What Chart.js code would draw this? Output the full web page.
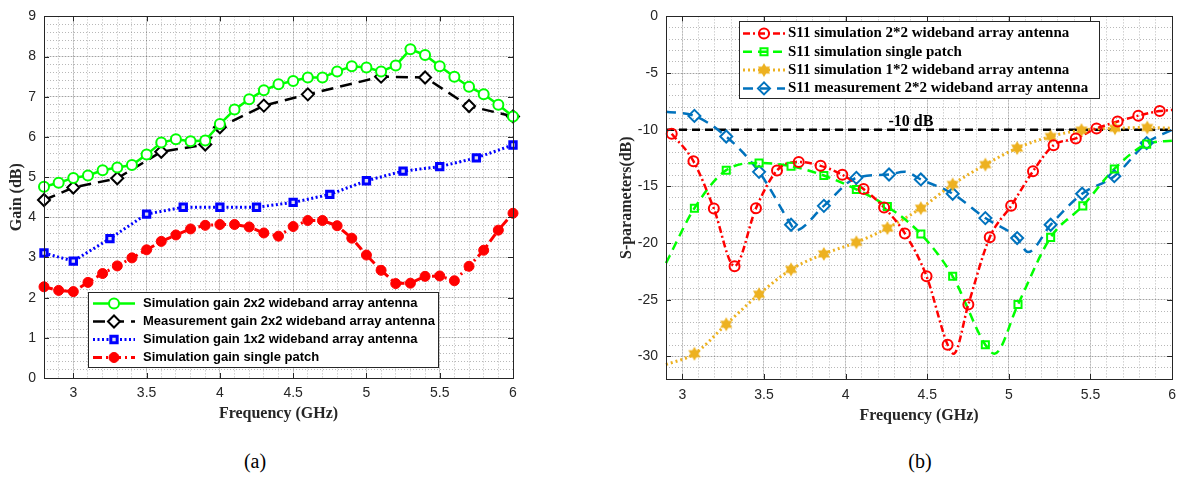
<!DOCTYPE html>
<html>
<head>
<meta charset="utf-8">
<script src="https://cdn.jsdelivr.net/npm/chart.js@4.4.0/dist/chart.umd.min.js"></script>
<style>
  html, body { margin: 0; padding: 0; background: #fff; }
  body { width: 1178px; height: 477px; position: relative; overflow: hidden; }
  canvas { position: absolute; top: 0; }
  #gain { left: 0; }
  #sparam { left: 580px; }
  .cap { position: absolute; top: 449px; width: 60px; margin-left: -30px; text-align: center;
         font: 20px "Liberation Serif", serif; line-height: 24px; color: #000; }
</style>
</head>
<body>
<canvas id="gain" width="560" height="427"></canvas>
<canvas id="sparam" width="604" height="429"></canvas>
<div class="cap" style="left:255px">(a)</div>
<div class="cap" style="left:920px">(b)</div>
<script>
// ---------- (a) gain ----------
const gainFreq = [2.8, 2.9, 3.0, 3.1, 3.2, 3.3, 3.4, 3.5, 3.6, 3.7, 3.8, 3.9, 4.0, 4.1, 4.2, 4.3, 4.4,
                  4.5, 4.6, 4.7, 4.8, 4.9, 5.0, 5.1, 5.2, 5.3, 5.4, 5.5, 5.6, 5.7, 5.8, 5.9, 6.0];
const simGain2x2 = [4.76, 4.86, 4.98, 5.04, 5.17, 5.24, 5.30, 5.56, 5.86, 5.94, 5.89, 5.91, 6.32, 6.68, 6.94, 7.16, 7.31,
                    7.39, 7.48, 7.48, 7.63, 7.76, 7.73, 7.63, 7.78, 8.18, 8.04, 7.76, 7.50, 7.25, 7.06, 6.80, 6.51];
const measFreq2x2 = [2.8, 3.0, 3.3, 3.6, 3.9, 4.0, 4.3, 4.6, 5.1, 5.4, 5.7, 6.0];
const measGain2x2 = [4.43, 4.74, 4.97, 5.63, 5.81, 6.24, 6.78, 7.06, 7.50, 7.48, 6.77, 6.51];
const simFreq1x2 = [2.8, 3.0, 3.25, 3.5, 3.75, 4.0, 4.25, 4.5, 4.75, 5.0, 5.25, 5.5, 5.75, 6.0];
const simGain1x2 = [3.11, 2.91, 3.47, 4.08, 4.25, 4.25, 4.25, 4.37, 4.57, 4.91, 5.15, 5.26, 5.48, 5.80];
const simGainPatch = [2.27, 2.18, 2.15, 2.38, 2.60, 2.79, 2.99, 3.19, 3.40, 3.56, 3.71, 3.80, 3.82, 3.82, 3.76, 3.61, 3.53,
                      3.77, 3.92, 3.92, 3.79, 3.48, 3.06, 2.68, 2.35, 2.36, 2.53, 2.54, 2.42, 2.78, 3.18, 3.68, 4.10];
const gainXTicks = [3, 3.5, 4, 4.5, 5, 5.5, 6];
const gainYTicks = [0, 1, 2, 3, 4, 5, 6, 7, 8, 9];

// ---------- (b) S11 ----------
// marked points, then curve readings with no marker (ends and minima)
const s11Sim22Freq = [2.935, 3.068, 3.193, 3.32, 3.451, 3.58, 3.713, 3.847, 3.98, 4.11, 4.236, 4.363,
                      4.496, 4.625, 4.752, 4.883, 5.014, 5.148, 5.274, 5.41, 5.537, 5.666, 5.793, 5.924];
const s11Sim22 = [-10.36, -12.78, -16.96, -22.04, -16.93, -13.6, -12.84, -13.19, -13.98, -15.24, -16.87, -19.15,
                  -22.94, -28.98, -25.42, -19.5, -16.72, -13.66, -11.38, -10.77, -9.89, -9.28, -8.76, -8.35];
const s11Sim22ExtraFreq = [4.662, 6.0];
const s11Sim22Extra = [-29.77, -8.26];

const s11PatchFreq = [3.074, 3.269, 3.47, 3.666, 3.867, 4.066, 4.256, 4.461, 4.656, 4.856, 5.056, 5.256, 5.453, 5.646, 5.844];
const s11Patch = [-16.93, -13.57, -12.93, -13.22, -14.04, -15.27, -16.78, -19.2, -22.94, -28.98, -25.42, -19.5, -16.72, -13.46, -11.27];
const s11PatchExtraFreq = [2.9, 4.912, 6.0];
const s11PatchExtra = [-21.77, -29.77, -10.97];

const s11Sim12Freq = [3.074, 3.269, 3.47, 3.666, 3.867, 4.066, 4.256, 4.461, 4.656, 4.856, 5.051, 5.256, 5.445, 5.65, 5.848];
const s11Sim12 = [-29.77, -27.17, -24.52, -22.33, -20.96, -19.94, -18.68, -16.93, -14.83, -13.08, -11.62, -10.6, -10.04, -9.87, -9.81];
const s11Sim12ExtraFreq = [2.9, 6.0];
const s11Sim12Extra = [-30.73, -9.87];

const s11Meas22Freq = [3.074, 3.269, 3.47, 3.666, 3.867, 4.066, 4.266, 4.461, 4.656, 4.856, 5.051, 5.256, 5.449, 5.646, 5.844];
const s11Meas22 = [-8.78, -10.6, -13.72, -18.39, -16.72, -14.25, -13.95, -14.39, -15.65, -17.8, -19.56, -18.39, -15.65, -14.1, -11.18];
const s11Meas22ExtraFreq = [2.9, 3.69, 4.36, 5.117, 6.0];
const s11Meas22Extra = [-8.41, -18.9, -13.7, -20.8, -10.0];

const refFreq = [2.9, 6.0];
const refLevel = [-10, -10];
const sXTicks = [3, 3.5, 4, 4.5, 5, 5.5, 6];
const sYTicks = [-30, -25, -20, -15, -10, -5, 0];

const axisColor = '#262626';
const majorGrid = 'rgba(0,0,0,0.13)';
const minorGrid = 'rgba(0,0,0,0.28)';

const pts = (xs, ys) => xs.map((x, i) => ({x: x, y: ys[i]}));
const curve = (xs, ys, ex, ey) => pts(xs, ys).concat(pts(ex, ey)).sort((a, b) => a.x - b.x);

function hexagram(color, r) {
  const c = document.createElement('canvas');
  const s = Math.ceil(r * 2) + 2;
  c.width = c.height = s;
  const g = c.getContext('2d');
  g.fillStyle = color;
  g.beginPath();
  for (let k = 0; k < 12; k++) {
    const a = -Math.PI / 2 + k * Math.PI / 6;
    const rr = k % 2 ? r * 0.58 : r;
    g.lineTo(s / 2 + rr * Math.cos(a), s / 2 + rr * Math.sin(a));
  }
  g.closePath();
  g.fill();
  return c;
}

function axes(xr, xTicks, xMinor, yr, yTicks, yMinor, xTitle, yTitle, o) {
  const tickFont = {family: 'Liberation Sans', size: 14};
  const titleFont = {family: 'Liberation Serif', size: 16, weight: 'bold'};
  const fix = vals => s => { s.ticks = vals.map(v => ({value: v})); };
  const label = v => String(v);
  return {
    x: {type: 'linear', position: 'bottom', min: xr[0], max: xr[1], afterBuildTicks: fix(xTicks),
        afterFit: s => { s.height = o.xh; },
        grid: {color: majorGrid, drawTicks: false}, border: {display: false},
        ticks: {font: tickFont, color: axisColor, padding: o.xpad, maxRotation: 0, autoSkip: false, callback: label},
        title: {display: true, text: xTitle, font: titleFont, color: axisColor, padding: {top: 4, bottom: 4}}},
    y: {type: 'linear', position: 'left', min: yr[0], max: yr[1], afterBuildTicks: fix(yTicks),
        afterFit: s => { s.width = o.yw; },
        grid: {color: majorGrid, drawTicks: false}, border: {display: false},
        ticks: {font: tickFont, color: axisColor, padding: o.ypad, autoSkip: false, callback: label},
        title: {display: true, text: yTitle, font: titleFont, color: axisColor, padding: {top: o.ytp, bottom: 4}}},
    xm: {type: 'linear', position: 'bottom', min: xr[0], max: xr[1],
         ticks: {display: false, stepSize: xMinor}, afterFit: s => { s.height = 0; },
         grid: {color: minorGrid, drawTicks: false}, border: {display: false, dash: [1, 2]}},
    ym: {type: 'linear', position: 'left', min: yr[0], max: yr[1],
         ticks: {display: false, stepSize: yMinor}, afterFit: s => { s.width = 0; },
         grid: {color: minorGrid, drawTicks: false}, border: {display: false, dash: [1, 2]}}
  };
}

const framePlugin = {
  id: 'frame',
  afterDatasetsDraw(chart) {
    const {ctx, chartArea: a, scales} = chart;
    ctx.save();
    ctx.strokeStyle = axisColor;
    ctx.lineWidth = 1;
    ctx.strokeRect(Math.round(a.left) + 0.5, Math.round(a.top) + 0.5,
                   Math.round(a.right - a.left), Math.round(a.bottom - a.top));
    ctx.beginPath();
    scales.x.ticks.forEach(t => {
      const p = Math.round(scales.x.getPixelForValue(t.value)) + 0.5;
      ctx.moveTo(p, a.bottom); ctx.lineTo(p, a.bottom - 5);
      ctx.moveTo(p, a.top); ctx.lineTo(p, a.top + 5);
    });
    scales.y.ticks.forEach(t => {
      const p = Math.round(scales.y.getPixelForValue(t.value)) + 0.5;
      ctx.moveTo(a.left, p); ctx.lineTo(a.left + 5, p);
      ctx.moveTo(a.right, p); ctx.lineTo(a.right - 5, p);
    });
    ctx.stroke();
    ctx.restore();
  }
};

const boxLegend = {
  id: 'boxLegend',
  afterDraw(chart, args, opts) {
    const {ctx} = chart;
    const b = opts.box;
    ctx.save();
    ctx.fillStyle = '#fff';
    ctx.fillRect(b.x, b.y, b.w, b.h);
    ctx.strokeStyle = axisColor;
    ctx.lineWidth = 1;
    ctx.strokeRect(b.x + 0.5, b.y + 0.5, b.w, b.h);
    const items = chart.data.datasets.filter(d => d.label);
    items.forEach((d, i) => {
      const y = b.y + opts.first + i * opts.step;
      ctx.save();
      ctx.strokeStyle = d.borderColor;
      ctx.lineWidth = d.borderWidth;
      ctx.setLineDash(d.borderDash || []);
      ctx.beginPath();
      ctx.moveTo(b.x + opts.lx0, y);
      ctx.lineTo(b.x + opts.lx1, y);
      ctx.stroke();
      ctx.setLineDash([]);
      ctx.fillStyle = d.pointBackgroundColor;
      ctx.strokeStyle = d.pointBorderColor;
      ctx.lineWidth = d.pointBorderWidth;
      Chart.helpers.drawPoint(ctx, {pointStyle: d.pointStyle, radius: d.pointRadius,
        borderWidth: d.pointBorderWidth, rotation: 0}, b.x + (opts.lx0 + opts.lx1) / 2, y);
      ctx.restore();
      ctx.font = opts.font;
      ctx.textBaseline = 'middle';
      ctx.fillStyle = '#000';
      ctx.fillText(d.label, b.x + opts.tx, y);
    });
    ctx.restore();
  }
};

const refLabel = {
  id: 'refLabel',
  afterDatasetsDraw(chart, args, opts) {
    if (!opts.text) return;
    const {ctx, scales} = chart;
    ctx.save();
    ctx.font = opts.font;
    ctx.fillStyle = '#000';
    ctx.textAlign = 'center';
    ctx.textBaseline = 'middle';
    ctx.fillText(opts.text, scales.x.getPixelForValue(opts.x), scales.y.getPixelForValue(opts.y) + opts.dy);
    ctx.restore();
  }
};

const common = {
  responsive: false,
  animation: false,
  events: [],
  plugins: {legend: {display: false}, tooltip: {enabled: false}}
};

// ---------- chart (a) ----------
new Chart(document.getElementById('gain'), {
  type: 'scatter',
  data: {
    datasets: [
      {label: 'Simulation gain 2x2 wideband array antenna', data: pts(gainFreq, simGain2x2), showLine: true,
       borderColor: '#00ff00', borderWidth: 2.5, pointStyle: 'circle', pointRadius: 5, pointBorderWidth: 2,
       pointBorderColor: '#00ff00', pointBackgroundColor: '#fff', clip: false},
      {label: 'Measurement gain 2x2 wideband array antenna', data: pts(measFreq2x2, measGain2x2), showLine: true,
       borderColor: '#000', borderWidth: 2.5, borderDash: [12, 7], pointStyle: 'rectRot', pointRadius: 6,
       pointBorderWidth: 2, pointBorderColor: '#000', pointBackgroundColor: '#fff', clip: false},
      {label: 'Simulation gain 1x2 wideband array antenna', data: pts(simFreq1x2, simGain1x2), showLine: true,
       borderColor: '#0000ff', borderWidth: 3, borderDash: [2, 2.5], pointStyle: 'rect', pointRadius: 4.5,
       pointBorderWidth: 3, pointBorderColor: '#0000ff', pointBackgroundColor: '#dde', clip: false},
      {label: 'Simulation gain single patch', data: pts(gainFreq, simGainPatch), showLine: true,
       borderColor: '#ff0000', borderWidth: 3, borderDash: [9, 4, 2, 4], pointStyle: 'circle', pointRadius: 5,
       pointBorderWidth: 1, pointBorderColor: '#ff0000', pointBackgroundColor: '#ff0000', clip: false}
    ]
  },
  options: Object.assign({}, common, {
    layout: {padding: {left: 0, top: 9, right: 47, bottom: 0}},
    scales: axes([2.8, 6], gainXTicks, 0.1, [0, 9], gainYTicks, 0.2, 'Frequency (GHz)', 'Gain (dB)',
                 {xh: 49, yw: 44, xpad: 7, ypad: 8, ytp: 7}),
    plugins: Object.assign({}, common.plugins, {
      boxLegend: {box: {x: 88, y: 292, w: 350, h: 75}, first: 11.5, step: 18, lx0: 5, lx1: 47, tx: 55,
                  font: 'bold 13px "Liberation Sans", Arial, sans-serif'}
    })
  }),
  plugins: [framePlugin, boxLegend]
});

// ---------- chart (b) ----------
const star = hexagram('#EDB120', 7);
const lineDs = (data, color, width, dash) => ({data: data, showLine: true, borderColor: color, borderWidth: width,
  borderDash: dash, pointRadius: 0, cubicInterpolationMode: 'monotone', clip: false});

new Chart(document.getElementById('sparam'), {
  type: 'scatter',
  data: {
    datasets: [
      {label: 'S11 simulation 2*2 wideband array antenna', data: pts(s11Sim22Freq, s11Sim22),
       borderColor: '#ff0000', borderWidth: 2.5, borderDash: [7, 3, 2, 3], pointStyle: 'circle', pointRadius: 5,
       pointBorderWidth: 2, pointBorderColor: '#ff0000', pointBackgroundColor: 'rgba(0,0,0,0)', clip: false},
      {label: 'S11 simulation single patch', data: pts(s11PatchFreq, s11Patch),
       borderColor: '#00ff00', borderWidth: 2.5, borderDash: [9, 6], pointStyle: 'rect', pointRadius: 5,
       pointBorderWidth: 2, pointBorderColor: '#00ff00', pointBackgroundColor: 'rgba(0,0,0,0)', clip: false},
      {label: 'S11 simulation 1*2 wideband array antenna', data: pts(s11Sim12Freq, s11Sim12),
       borderColor: '#EDB120', borderWidth: 3, borderDash: [2, 3], pointStyle: star, pointRadius: 7,
       pointBorderWidth: 0, pointBorderColor: '#EDB120', pointBackgroundColor: '#EDB120', clip: false},
      {label: 'S11 measurement 2*2 wideband array antenna', data: pts(s11Meas22Freq, s11Meas22),
       borderColor: '#0072BD', borderWidth: 2.5, borderDash: [10, 7], pointStyle: 'rectRot', pointRadius: 6,
       pointBorderWidth: 2, pointBorderColor: '#0072BD', pointBackgroundColor: 'rgba(0,0,0,0)', clip: false},
      lineDs(curve(s11Sim22Freq, s11Sim22, s11Sim22ExtraFreq, s11Sim22Extra), '#ff0000', 2.5, [7, 3, 2, 3]),
      lineDs(curve(s11PatchFreq, s11Patch, s11PatchExtraFreq, s11PatchExtra), '#00ff00', 2.5, [9, 6]),
      lineDs(curve(s11Sim12Freq, s11Sim12, s11Sim12ExtraFreq, s11Sim12Extra), '#EDB120', 3, [2, 3]),
      lineDs(curve(s11Meas22Freq, s11Meas22, s11Meas22ExtraFreq, s11Meas22Extra), '#0072BD', 2.5, [10, 7]),
      {data: pts(refFreq, refLevel), showLine: true, borderColor: '#000', borderWidth: 2.5, borderDash: [8, 5],
       pointRadius: 0}
    ]
  },
  options: Object.assign({}, common, {
    layout: {padding: {left: 0, top: 14, right: 7, bottom: 0}},
    scales: axes([2.9, 6], sXTicks, 0.1, [-32, 0], sYTicks, 1, 'Frequency (GHz)', 'S-parameters(dB)',
                 {xh: 50, yw: 86, xpad: 8, ypad: 8, ytp: 37}),
    plugins: Object.assign({}, common.plugins, {
      boxLegend: {box: {x: 159, y: 21, w: 360, h: 77}, first: 12.5, step: 18.3, lx0: 4, lx1: 46, tx: 49,
                  font: 'bold 15px "Liberation Serif", "Times New Roman", serif'},
      refLabel: {text: '-10 dB', x: 4.40, y: -10, dy: -8, font: 'bold 16px "Liberation Serif", serif'}
    })
  }),
  plugins: [framePlugin, boxLegend, refLabel]
});
</script>
</body>
</html>
